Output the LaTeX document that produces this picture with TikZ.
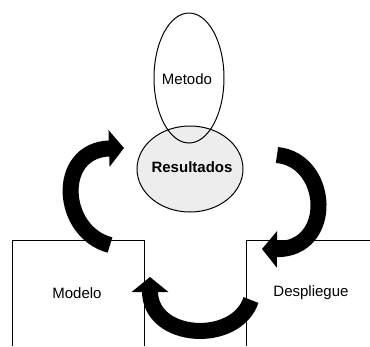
\documentclass[tikz,border=0pt]{standalone}
\usepackage{fontspec}
\setmainfont{Liberation Sans}
\usetikzlibrary{shapes.geometric,arrows.meta}
\tikzset{
  lbl/.style={font=\fontsize{15}{17}\selectfont, inner sep=0pt},
  boxline/.style={line width=1pt, black},
  oval/.style={ellipse, draw=black, line width=1pt, inner sep=0pt},
  bigarrow/.style={line width=16pt, black, -{Triangle[length=15pt,width=36pt]}}
}
\begin{document}
\begin{tikzpicture}[x=1pt,y=-1pt]
\useasboundingbox (0,0) rectangle (370,346);
% boxes (open at bottom)
\draw[boxline] (12,346) -- (12,240) -- (144,240) -- (144,346);
\draw[boxline] (370,240) -- (246,240) -- (246,346);
\node[lbl] (modelo) at (77,293) {Modelo};
\node[lbl] (despliegue) at (311,293) {Despliegue};
% ovals
\node[oval, fill=gray!14, minimum width=106pt, minimum height=86pt] (resultados) at (190,169) {};
\node[lbl, font=\fontsize{15}{17}\selectfont\bfseries] (restext) at (192,167) {Resultados};
\node[oval, minimum width=70pt, minimum height=130pt] (metodo) at (189,78) {};
\node[lbl] (mettext) at (187,79) {Metodo};
% arrow end points
\coordinate (t1) at (110,245);
\coordinate (h1) at (124,148);
\coordinate (t2) at (277,155);
\coordinate (h2) at (262,249);
\coordinate (t3) at (251,300);
\coordinate (h3) at (150,277);
% curved block arrows
\draw[bigarrow] (t1) .. controls (60,232) and (55,150) .. (h1);
\draw[bigarrow] (t2) .. controls (330,160) and (335,250) .. (h2);
\draw[bigarrow] (t3) .. controls (236,345) and (150,340) .. (h3);
\end{tikzpicture}
\end{document}
